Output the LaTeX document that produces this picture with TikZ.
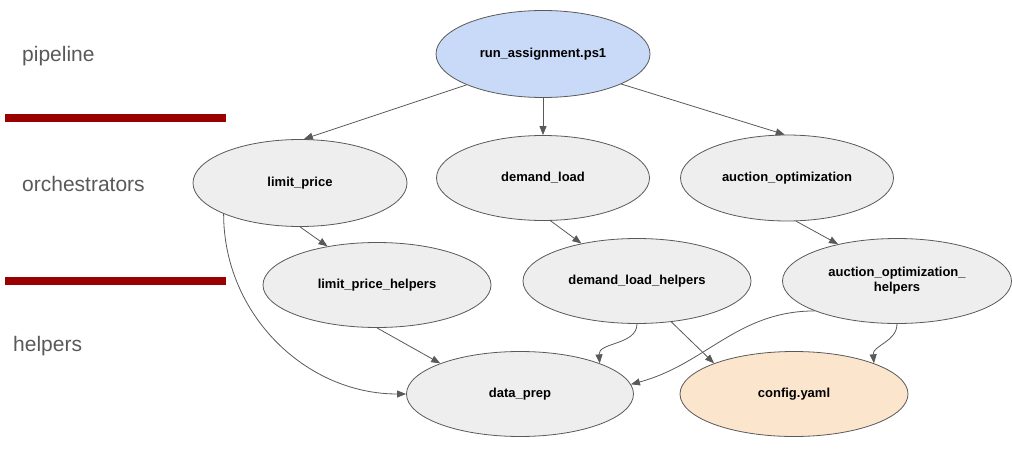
\documentclass[tikz,border=0pt]{standalone}
\usepackage{fontspec}
\setmainfont{Liberation Sans}
\usetikzlibrary{shapes.geometric,arrows.meta}
\definecolor{edgegray}{HTML}{595959}
\definecolor{layerred}{HTML}{990000}
\definecolor{modgray}{HTML}{EEEEEE}
\definecolor{modblue}{HTML}{C9DAF8}
\definecolor{modorange}{HTML}{FCE5CD}
\begin{document}
\begin{tikzpicture}[x=1pt,y=1pt,
  module/.style={ellipse,draw=edgegray,line width=0.8pt,fill=modgray,inner sep=0pt,
    minimum width=226pt,minimum height=85pt,align=center,
    font=\fontsize{13}{15}\selectfont\bfseries},
  layer/.style={anchor=base west,inner sep=0pt,text=edgegray,font=\fontsize{21}{25}\selectfont},
  link/.style={draw=edgegray,line width=0.8pt,-{Triangle[length=9pt,width=7pt]}}]
  \useasboundingbox (0,0) rectangle (1012,-457);
  \node[layer] (pipe) at (22,-62) {pipeline};
  \node[layer] (orch) at (22,-192) {orchestrators};
  \node[layer] (help) at (13,-351) {helpers};
  \foreach \y in {-118.5,-281}
    \draw[layerred,line width=8pt] (5,\y) -- (226,\y);
  \node[module,fill=modblue,minimum width=214pt,minimum height=87pt] (run) at (543,-54) {run\_assignment.ps1};
  \node[module,minimum width=214pt,minimum height=87pt] (lp) at (300,-183) {limit\_price};
  \node[module,minimum width=213pt] (dl) at (543,-178) {demand\_load};
  \node[module,minimum width=213pt,minimum height=86pt] (ao) at (787,-178) {auction\_optimization};
  \node[module,minimum width=228pt] (lph) at (377,-285) {limit\_price\_helpers};
  \node[module,minimum width=228pt] (dlh) at (637,-281) {demand\_load\_helpers};
  \node[module,minimum width=229pt] (aoh) at (897,-281) {auction\_optimization\_\\helpers};
  \node[module,minimum width=227pt] (dp) at (520,-394) {data\_prep};
  \node[module,fill=modorange,minimum width=228pt] (cfg) at (794,-394) {config.yaml};
  \draw[link] (run.202) -- (lp.85);
  \draw[link] (run.south) -- (dl.north);
  \draw[link] (run.339) -- (ao.93);
  \draw[link] (lp.south) -- (lph.142);
  \draw[link] (lp.202) to[out=-90,in=180] (dp.west);
  \draw[link] (lph.south) -- (dp.159);
  \draw[link] (dl.280) -- (dlh.146);
  \draw[link] (ao.282) -- (aoh.148);
  \draw[link] (dlh.south) to[out=-90,in=95] (dp.21);
  \draw[link] (dlh.310) -- (cfg.159);
  \draw[link] (aoh.200) to[out=180,in=15] (dp.5);
  \draw[link] (aoh.south) to[out=-90,in=95] (cfg.21);
\end{tikzpicture}
\end{document}
